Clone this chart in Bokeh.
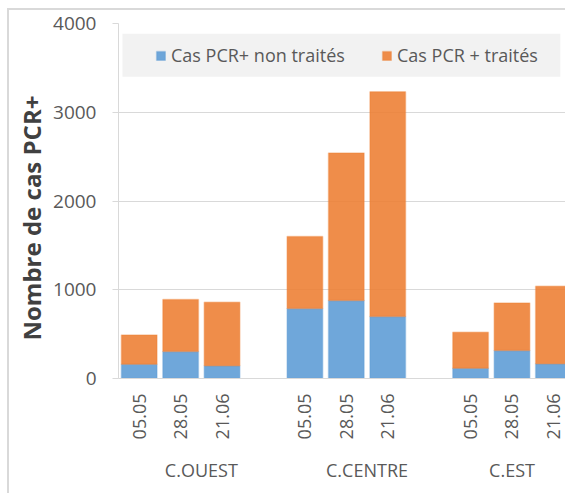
import math
from bokeh.plotting import figure
from bokeh.models import (ColumnDataSource, Range1d, LinearAxis, FixedTicker,
                          BoxAnnotation, Legend, LegendItem, Title)
from bokeh.embed import file_html
from bokeh.resources import INLINE

# ---- data ----
groups = ["C.OUEST", "C.CENTRE", "C.EST"]
dates = ["05.05", "28.05", "21.06"]
non_traites = [160, 305, 145, 790, 880, 700, 115, 315, 165]
traites = [330, 585, 715, 810, 1660, 2530, 405, 535, 875]
y_ticks = [0, 1000, 2000, 3000, 4000]
series_names = ["Cas PCR+ non traités", "Cas PCR + traités"]
y_title = "Nombre de cas PCR+"

BLUE = "#5B9BD5"
ORANGE = "#ED7D31"
GRID = "#d9d9d9"
TXT = "#595959"
FONT = "Open Sans"
FS = "18px"

slot = len(dates) + 1
xs = [g * slot + d for g in range(len(groups)) for d in range(len(dates))]
date_labels = [d for g in groups for d in dates]
grp_centers = [g * slot + (len(dates) - (0 if g < len(groups) - 1 else 1)) / 2
               for g in range(len(groups))]

src = ColumnDataSource(dict(x=xs, non=non_traites, tr=traites))

p = figure(width=558, height=485, x_range=Range1d(-0.5, 10.34),
           y_range=Range1d(0, 4000), output_backend="svg",
           toolbar_location=None, x_axis_type=None,
           min_border_left=106, min_border_right=0, min_border_top=13,
           min_border_bottom=117)
p.styles = {"margin-left": "7px", "margin-top": "8px",
            "border-left": "2px solid #d9d9d9", "border-top": "2px solid #d9d9d9"}
p.outline_line_color = None
p.background_fill_color = "white"
p.border_fill_color = "white"

# grid / y axis
p.ygrid.grid_line_color = GRID
p.ygrid.ticker = FixedTicker(ticks=y_ticks)
yax = p.yaxis[0]
yax.ticker = FixedTicker(ticks=y_ticks)
yax.axis_line_color = GRID
yax.major_tick_line_color = GRID
yax.major_tick_out = 6
yax.major_tick_in = 0
yax.minor_tick_line_color = None
yax.major_label_standoff = 16
yax.major_label_text_font = FONT
yax.major_label_text_font_size = "19px"
yax.major_label_text_color = TXT

# y title (as a left-side title so it can sit off-centre like the original)
p.add_layout(Title(text=y_title, align="left", offset=38, standoff=6,
                   text_font=FONT, text_font_size="24px",
                   text_font_style="bold", text_color="#404040"), "left")

# bars
rs = p.vbar_stack(["non", "tr"], x="x", width=0.86, source=src,
                  fill_color=[BLUE, ORANGE], fill_alpha=0.88,
                  line_color=[BLUE, ORANGE], line_alpha=0.35, line_width=1.5)

# x axes: dates and groups
dax = LinearAxis(ticker=FixedTicker(ticks=xs),
                 major_label_overrides={x: d for x, d in zip(xs, date_labels)},
                 major_label_orientation=math.pi / 2)
dax.axis_line_color = GRID
dax.major_tick_line_color = None
dax.minor_tick_line_color = None
dax.major_tick_out = 0
dax.major_tick_in = 0
dax.major_label_standoff = 15
dax.major_label_text_font = FONT
dax.major_label_text_font_size = FS
dax.major_label_text_color = TXT
p.add_layout(dax, "below")

gax = LinearAxis(ticker=FixedTicker(ticks=grp_centers),
                 major_label_overrides={c: g for c, g in zip(grp_centers, groups)})
gax.axis_line_color = None
gax.major_tick_line_color = None
gax.minor_tick_line_color = None
gax.major_tick_out = 0
gax.major_tick_in = 0
gax.major_label_standoff = 15
gax.major_label_text_font = FONT
gax.major_label_text_font_size = FS
gax.major_label_text_color = TXT
p.add_layout(gax, "below")

# legend background + legend
p.add_layout(BoxAnnotation(left=-0.405, right=10.167, top=3884, bottom=3399,
                           fill_color="#f2f2f2", fill_alpha=1, line_color=None))
legend = Legend(items=[LegendItem(label=series_names[0], renderers=[rs[0]]),
                       LegendItem(label=series_names[1], renderers=[rs[1]])],
                location=(32, 306), orientation="horizontal",
                background_fill_alpha=0, border_line_alpha=0,
                padding=5, spacing=0, margin=0, label_width=210,
                glyph_width=11, glyph_height=11, label_standoff=5,
                label_text_font=FONT, label_text_font_size=FS,
                label_text_color=TXT)
p.add_layout(legend)

open("out.html", "w").write(file_html(p, INLINE))
